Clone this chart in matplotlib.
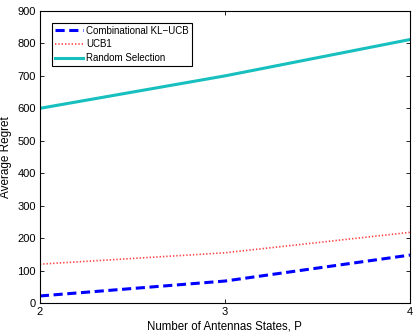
import matplotlib
matplotlib.use("Agg")
import matplotlib.pyplot as plt

plt.rcParams['font.family'] = ['Liberation Sans', 'DejaVu Sans']

P = [2, 3, 4]
kl_ucb = [22, 68, 148]
ucb1 = [120, 155, 218]
random_sel = [600, 700, 812]
labels = ['Combinational KL\u2212UCB', 'UCB1', 'Random Selection']

fig = plt.figure(figsize=(4.15, 3.32), dpi=100)
ax = fig.add_axes([0.096, 0.087, 0.892, 0.880])
ax.plot(P, kl_ucb, color='#0000ff', linestyle=(0, (3, 1.5)), linewidth=2.2, label=labels[0])
ax.plot(P, ucb1, color='#ff4040', linestyle=(0, (0.8, 1.2)), linewidth=1.2, label=labels[1])
ax.plot(P, random_sel, color='#17bfbf', linewidth=2.2, label=labels[2])

ax.set_xlim(2, 4)
ax.set_ylim(0, 900)
ax.set_xticks([2, 3, 4])
ax.set_yticks(range(0, 901, 100))
ax.tick_params(direction='in', top=True, right=True, labelsize=8, length=3, width=0.6, pad=3)
for s in ax.spines.values():
    s.set_linewidth(0.8)
ax.set_xlabel('Number of Antennas States, P', fontsize=8.3, labelpad=2)
ax.set_ylabel('Average Regret', fontsize=8.5, labelpad=4)
leg = ax.legend(loc='upper left', bbox_to_anchor=(0.032, 0.96), fontsize=7, fancybox=False,
                edgecolor='black', framealpha=1, handlelength=2.9, borderaxespad=0.0,
                labelspacing=0.4, borderpad=0.3, handletextpad=0.35)
leg.get_frame().set_linewidth(0.8)
fig.savefig('out.png', dpi=100)
